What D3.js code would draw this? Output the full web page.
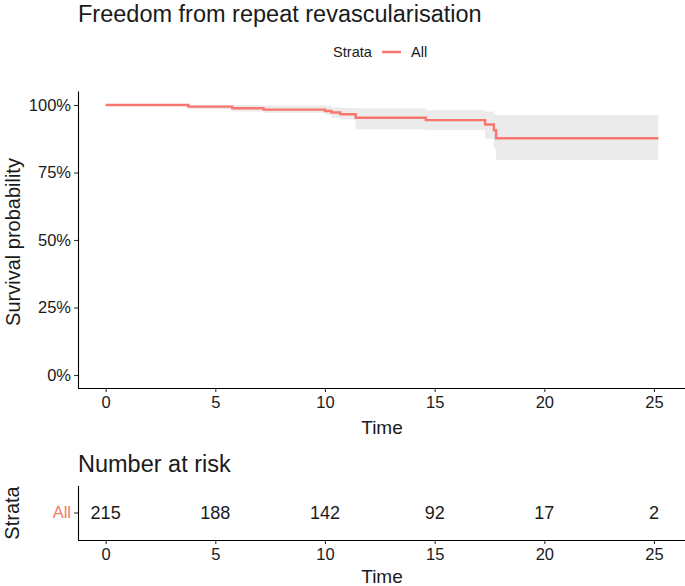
<!DOCTYPE html>
<html>
<head>
<meta charset="utf-8">
<script src="https://d3js.org/d3.v7.min.js"></script>
<style>
	body { margin: 0; background: #fff; }
	text { font-family: "Liberation Sans", Arial, sans-serif; fill: #1a1a1a; }
</style>
</head>
<body>
<div id="chart"></div>
<script>
	// step curve (time in years, survival in %)
	var times = [0, 3.77, 5.77, 7.2, 10.0, 10.3, 10.7, 11.4, 14.6, 17.3, 17.7, 17.8];
	var surv  = [100, 99.4, 98.8, 98.3, 97.8, 97.2, 96.6, 95.3, 94.4, 92.8, 90.7, 87.7];
	var upper = [100, 100, 100, 99.8, 99.7, 99.2, 98.9, 98.8, 98.1, 97.6, 96.6, 96.3];
	var lower = [100, 98.4, 97.6, 97.1, 96.4, 95.2, 94.6, 91.0, 90.7, 87.4, 84.0, 79.6];
	var maxTime = 25.2;

	var xTicks = [0, 5, 10, 15, 20, 25];
	var yTicks = [0, 25, 50, 75, 100];
	var riskTimes = [0, 5, 10, 15, 20, 25];
	var riskCounts = [215, 188, 142, 92, 17, 2];
	var strata = ["All"];
	var red = "#F8766D";

	var width = 685, height = 586;
	var svg = d3.select("#chart").append("svg")
		.attr("width", width)
		.attr("height", height);

	var x = d3.scaleLinear().domain([-0.05 * maxTime, maxTime * 1.05]).range([78, 686]);
	var y = d3.scaleLinear().domain([-5, 105]).range([388.5, 91.5]);

	// build step data
	var pts = times.map(function(t, i) {
		return {t: t, s: surv[i], u: upper[i], l: lower[i]};
	});
	pts.push({t: maxTime, s: surv[surv.length - 1], u: upper[upper.length - 1], l: lower[lower.length - 1]});

	var band = d3.area()
		.curve(d3.curveStepAfter)
		.x(function(d) { return x(d.t); })
		.y0(function(d) { return y(d.l); })
		.y1(function(d) { return y(d.u); });

	svg.append("path")
		.datum(pts)
		.attr("d", band)
		.attr("fill", "#ebebeb");

	var line = d3.line()
		.curve(d3.curveStepAfter)
		.x(function(d) { return x(d.t); })
		.y(function(d) { return y(d.s); });

	svg.append("path")
		.datum(pts)
		.attr("d", line)
		.attr("fill", "none")
		.attr("stroke", red)
		.attr("stroke-width", 2.4);

	function styleAxis(g, size) {
		g.select(".domain").attr("stroke", "#000").attr("stroke-width", 1.1);
		g.selectAll(".tick line").attr("stroke", "#333").attr("stroke-width", 1.1);
		g.selectAll(".tick text").attr("font-size", size)
			.style("font-family", "'Liberation Sans', Arial, sans-serif");
	}

	// axes
	var xAxis = svg.append("g")
		.attr("transform", "translate(0,388)")
		.call(d3.axisBottom(x).tickValues(xTicks).tickSize(4).tickPadding(4));
	var yAxis = svg.append("g")
		.attr("transform", "translate(78,0)")
		.call(d3.axisLeft(y).tickValues(yTicks).tickSize(4).tickPadding(3)
			.tickFormat(function(d) { return d + "%"; }));
	styleAxis(xAxis, 16.5);
	styleAxis(yAxis, 16.5);
	xAxis.select(".domain").attr("d", "M78,0.5H686");
	yAxis.select(".domain").attr("d", "M0.5,91.5V388.5");

	svg.append("text")
		.attr("x", 78).attr("y", 22)
		.attr("font-size", 23.5)
		.text("Freedom from repeat revascularisation");

	// legend
	svg.append("text").attr("x", 333).attr("y", 57).attr("font-size", 14.6).text("Strata");
	svg.append("line").attr("x1", 382).attr("x2", 401).attr("y1", 52).attr("y2", 52)
		.attr("stroke", red).attr("stroke-width", 2.5);
	svg.append("text").attr("x", 411).attr("y", 57).attr("font-size", 14.6).text("All");

	svg.append("text")
		.attr("transform", "translate(20,242) rotate(-90)")
		.attr("text-anchor", "middle")
		.attr("font-size", 20)
		.text("Survival probability");

	svg.append("text")
		.attr("x", x(12.6)).attr("y", 434)
		.attr("text-anchor", "middle")
		.attr("font-size", 19)
		.text("Time");

	// number at risk table
	svg.append("text")
		.attr("x", 78).attr("y", 472)
		.attr("font-size", 23.5)
		.text("Number at risk");

	var yr = d3.scaleBand().domain(strata).range([486, 540]);

	var rx = svg.append("g")
		.attr("transform", "translate(0,540)")
		.call(d3.axisBottom(x).tickValues(xTicks).tickSize(4).tickPadding(4));
	var ry = svg.append("g")
		.attr("transform", "translate(78,0)")
		.call(d3.axisLeft(yr).tickSize(4).tickPadding(3));
	styleAxis(rx, 16.5);
	styleAxis(ry, 16.5);
	rx.select(".domain").attr("d", "M78,0.5H686");
	ry.select(".domain").attr("d", "M0.5,486V540");
	ry.selectAll(".tick text").style("fill", red);

	svg.selectAll(".risk")
		.data(riskCounts)
		.enter()
		.append("text")
		.attr("class", "risk")
		.attr("x", function(d, i) { return x(riskTimes[i]); })
		.attr("y", yr("All") + yr.bandwidth() / 2)
		.attr("dy", "0.36em")
		.attr("font-size", 18)
		.attr("text-anchor", "middle")
		.text(function(d) { return d; });

	svg.append("text")
		.attr("transform", "translate(19,513) rotate(-90)")
		.attr("text-anchor", "middle")
		.attr("font-size", 20)
		.text("Strata");

	svg.append("text")
		.attr("x", x(12.6)).attr("y", 583)
		.attr("text-anchor", "middle")
		.attr("font-size", 19)
		.text("Time");
</script>
</body>
</html>
